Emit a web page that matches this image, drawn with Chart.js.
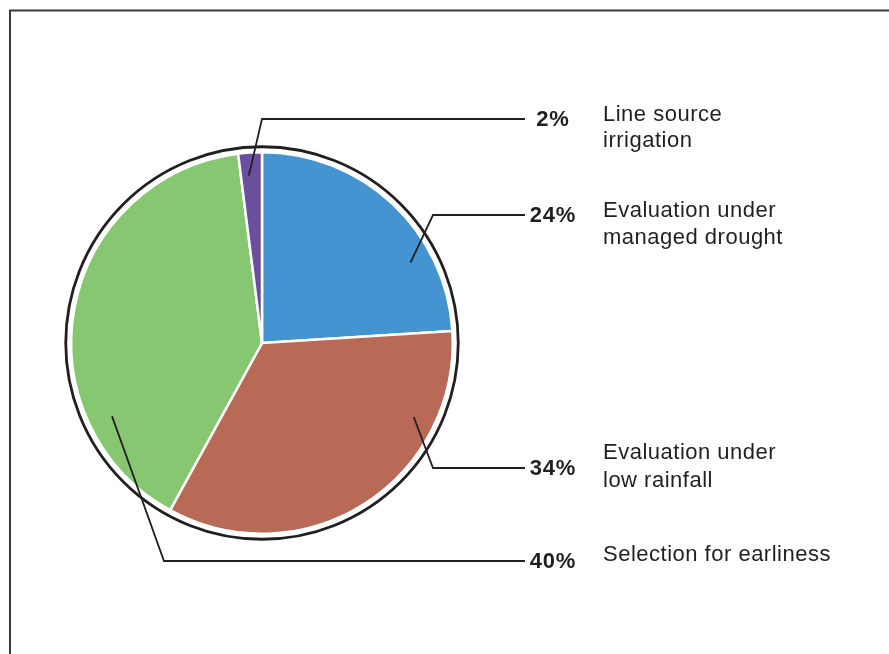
<!DOCTYPE html>
<html>
<head>
<meta charset="utf-8">
<script src="https://cdn.jsdelivr.net/npm/chart.js@4"></script>
<style>
  html, body { margin: 0; padding: 0; background: #fff; }
  #wrap { position: relative; width: 889px; height: 654px; }
</style>
</head>
<body>
<div id="wrap"><canvas id="pieChart" width="889" height="654"></canvas></div>
<script>
// Chart values (clockwise from 12 o'clock)
const categories = [
    ['Evaluation under', 'managed drought'],
    ['Evaluation under', 'low rainfall'],
    ['Selection for earliness'],
    ['Line source', 'irrigation']
];
const shares = [24, 34, 40, 2];
const sliceColors = ['#4394d0', '#b86a57', '#87c771', '#6a4f9f'];

const ink = '#231f20';

// Leader line layout per slice, relative to the pie centre (px)
// angle: where the leader starts inside the slice (deg clockwise from top)
const leaders = [
    { angle: 61.6,  r: 0.885, elbow: [171, -128], textY: [-4, 23] },
    { angle: 116.0, r: 0.885, elbow: [171, 125],  textY: [-15, 13] },
    { angle: 244.0, r: 0.875, elbow: [-98, 218],  textY: [-6] },
    { angle: 355.5, r: 0.88,  elbow: [0, -224],   textY: [-4, 22] }
];

// Frame, outer ring, leader lines and labels
const decorations = {
    id: 'decorations',
    beforeDraw(chart) {
        const c = chart.ctx;
        c.save();
        c.strokeStyle = '#3a3a3a';
        c.lineWidth = 2;
        c.beginPath();
        c.moveTo(10, chart.height);
        c.lineTo(10, 10.5);
        c.lineTo(chart.width, 10.5);
        c.stroke();
        c.restore();
    },
    afterDatasetsDraw(chart) {
        const c = chart.ctx;
        const arcs = chart.getDatasetMeta(0).data;
        const cx = arcs[0].x, cy = arcs[0].y, R = arcs[0].outerRadius;

        c.save();
        // ring round the pie
        c.strokeStyle = ink;
        c.lineWidth = 2.8;
        c.beginPath();
        c.arc(cx, cy, R + 5.5, 0, Math.PI * 2);
        c.stroke();

        const lineEnd = cx + 263;
        const pctX = cx + 291;
        const textX = cx + 341;

        leaders.forEach((l, i) => {
            const a = l.angle * Math.PI / 180;
            const sx = cx + Math.sin(a) * R * l.r;
            const sy = cy - Math.cos(a) * R * l.r;
            const ex = cx + l.elbow[0];
            const ey = cy + l.elbow[1];

            c.strokeStyle = ink;
            c.lineWidth = 1.8;
            c.beginPath();
            c.moveTo(sx, sy);
            c.lineTo(ex, ey);
            c.lineTo(lineEnd, ey);
            c.stroke();

            c.fillStyle = ink;
            c.textBaseline = 'middle';
            c.textAlign = 'center';
            c.font = 'bold 22px "Liberation Sans", Arial, sans-serif';
            c.letterSpacing = '0.8px';
            c.fillText(shares[i] + '%', pctX, ey + 1);

            c.letterSpacing = '0.5px';
            c.textAlign = 'left';
            c.font = '22px "Liberation Sans", Arial, sans-serif';
            categories[i].forEach((line, j) => {
                c.fillText(line, textX, ey + l.textY[j]);
            });
        });
        c.restore();
    }
};

const chart = new Chart(document.getElementById('pieChart'), {
    type: 'pie',
    data: {
        labels: categories.map(c => c.join(' ')),
        datasets: [{
            data: shares,
            backgroundColor: sliceColors,
            borderColor: '#ffffff',
            borderWidth: 2.5
        }]
    },
    options: {
        responsive: false,
        animation: false,
        layout: {
            padding: { left: 70, top: 151, right: 435, bottom: 119 }
        },
        plugins: {
            legend: { display: false },
            tooltip: { enabled: false }
        }
    },
    plugins: [decorations]
});
</script>
</body>
</html>
